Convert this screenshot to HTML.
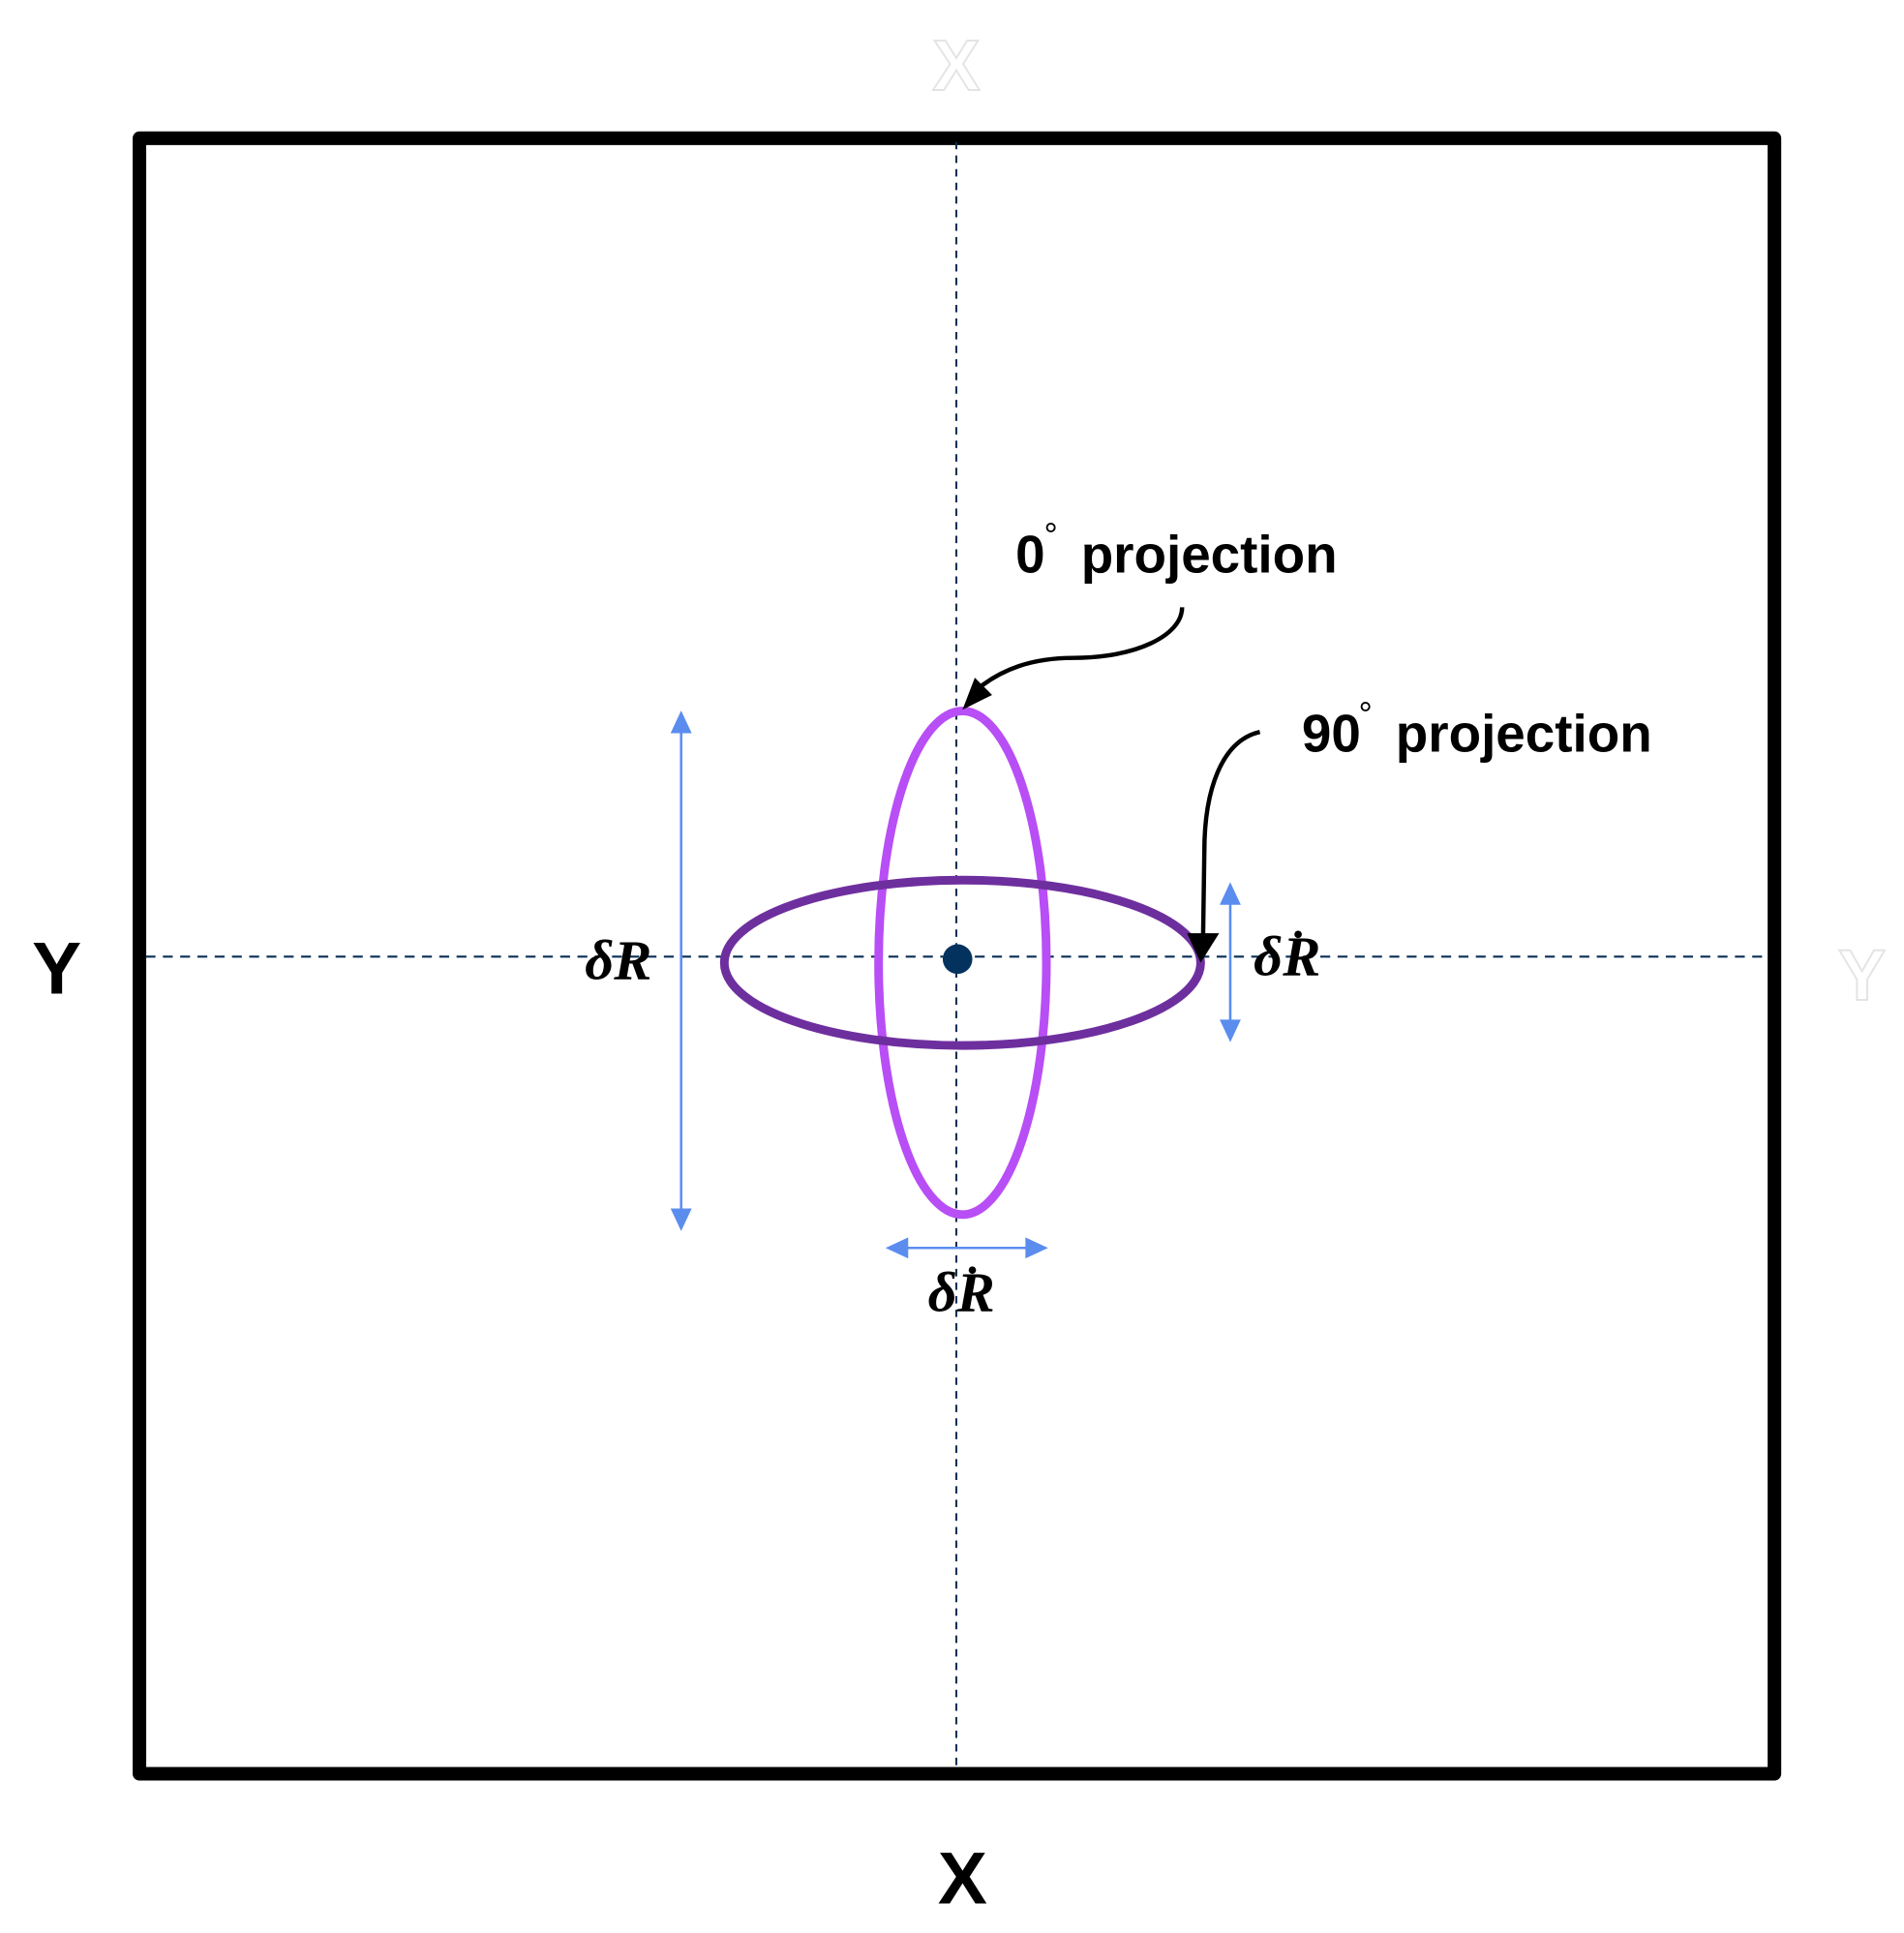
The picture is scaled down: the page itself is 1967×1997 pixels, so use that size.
<!DOCTYPE html>
<html><head><meta charset="utf-8"><style>html,body{margin:0;padding:0;background:#fff}svg{display:block}</style></head>
<body>
<svg width="1967" height="1997" viewBox="0 0 1543 1566" preserveAspectRatio="none" xmlns="http://www.w3.org/2000/svg">
<rect x="113" y="112" width="1325" height="1325" fill="none" stroke="#000" stroke-width="11" stroke-linejoin="round"/>
<line x1="775" y1="115" x2="775" y2="1432" stroke="#0a2f55" stroke-width="1.6" stroke-dasharray="6 5"/>
<line x1="118" y1="775" x2="1432" y2="775" stroke="#0a2f55" stroke-width="1.6" stroke-dasharray="8 6"/>
<ellipse cx="780" cy="780" rx="68" ry="204" fill="none" stroke="#b84ef5" stroke-width="7"/>
<ellipse cx="780" cy="780" rx="193" ry="67" fill="none" stroke="#6e2f9e" stroke-width="7"/>
<circle cx="776" cy="777" r="12" fill="#04325e"/>
<g stroke="#5b8def" stroke-width="2" fill="#5b8def">
<line x1="552" y1="590" x2="552" y2="983"/><path d="M552,578 L545,593 L559,593 z"/><path d="M552,995 L545,980 L559,980 z"/>
<line x1="997" y1="729" x2="997" y2="830"/><path d="M997,717 L990,732 L1004,732 z"/><path d="M997,842 L990,827 L1004,827 z"/>
<line x1="732" y1="1011" x2="835" y2="1011"/><path d="M720,1011 L735,1004 L735,1018 z"/><path d="M847,1011 L832,1004 L832,1018 z"/>
</g>
<path d="M958,492 C958,515 920,533 870,533 C835,533 812,543 795,556" fill="none" stroke="#000" stroke-width="3.5"/>
<path d="M780,575 L790,549 L804,563 z" fill="#000"/>
<path d="M1021,593 C990,600 976,640 976,690 L975,758" fill="none" stroke="#000" stroke-width="3.5"/>
<path d="M973,780 L962,756 L988,756 z" fill="#000"/>
<g font-family="Liberation Sans, sans-serif" font-weight="bold">
<text x="775" y="73" font-size="58" text-anchor="middle" fill="#fff" stroke="#e4e4e4" stroke-width="1.5">X</text>
<text x="1509" y="810" font-size="58" text-anchor="middle" fill="#fff" stroke="#e4e4e4" stroke-width="1.5">Y</text>
<text x="46" y="805" font-size="60" text-anchor="middle">Y</text>
<text x="780" y="1542" font-size="60" text-anchor="middle">X</text>
<text x="823" y="464" font-size="43">0</text>
<text x="846" y="443" font-size="28" font-weight="normal">°</text>
<text x="876" y="464" font-size="43">projection</text>
<text x="1055" y="609" font-size="43">90</text>
<text x="1101" y="588" font-size="28" font-weight="normal">°</text>
<text x="1131" y="609" font-size="43">projection</text>
</g>
<g font-family="Liberation Serif, serif" font-weight="bold" font-style="italic" font-size="46">
<text x="474" y="793">δR</text>
<text x="1016" y="790">δR</text>
<circle cx="1052" cy="757" r="3" fill="#000"/>
<text x="752" y="1062">δR</text>
<circle cx="788" cy="1029" r="3" fill="#000"/>
</g>
</svg>
</body></html>
